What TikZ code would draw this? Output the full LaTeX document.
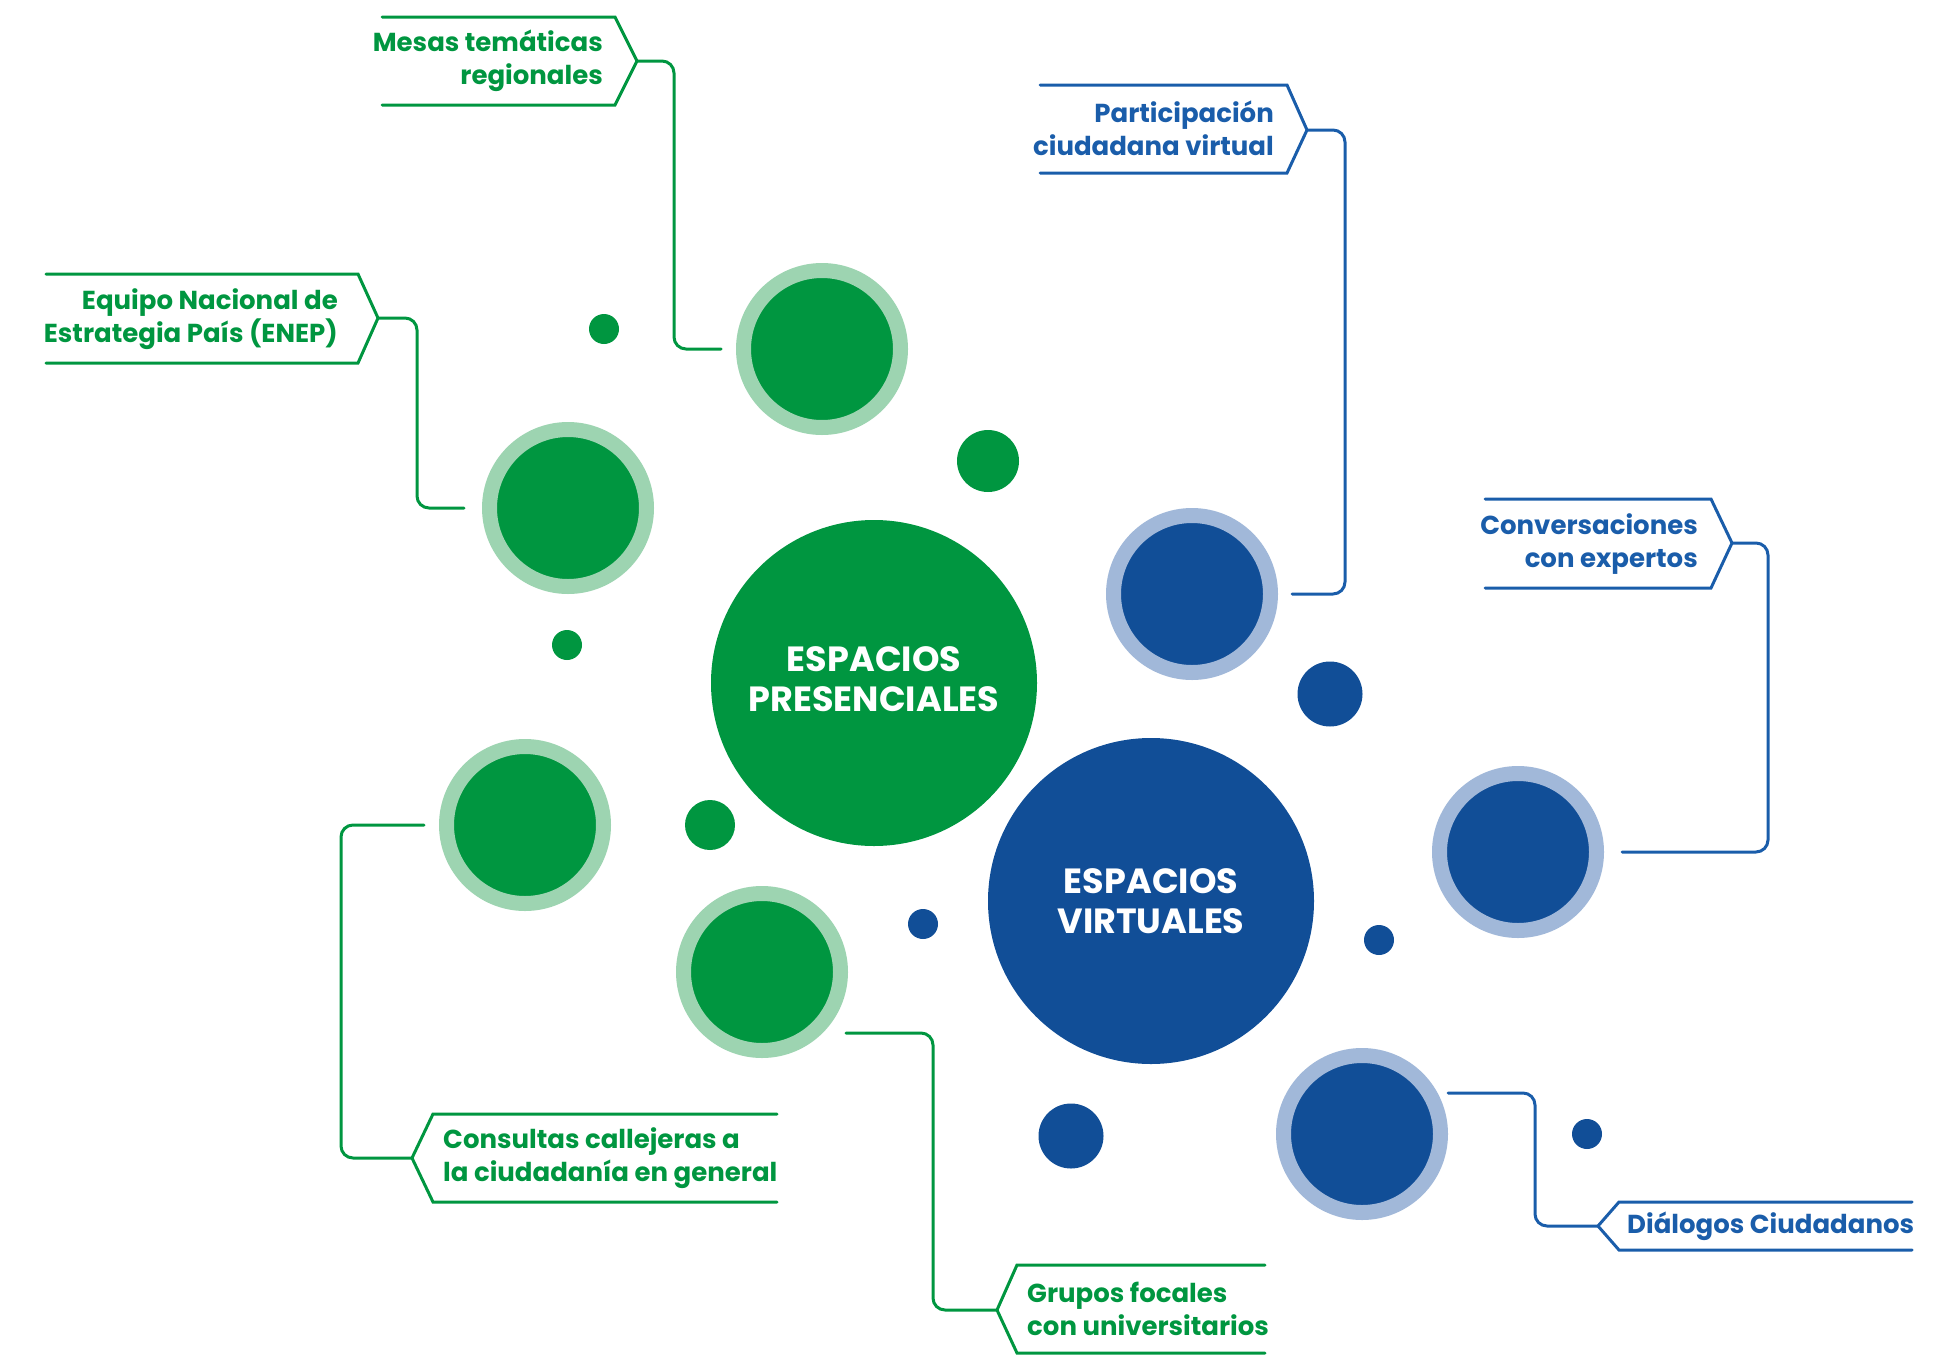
\documentclass[tikz,border=0pt]{standalone}
\usepackage{fontspec}
\setmainfont{Poppins}
\usetikzlibrary{calc}
\definecolor{verde}{HTML}{009640}
\definecolor{verdeclaro}{HTML}{9DD4B1}
\definecolor{azul}{HTML}{114E97}
\definecolor{azulclaro}{HTML}{A1B8D9}
\definecolor{azultexto}{HTML}{1A5DAA}

\begin{document}
\begin{tikzpicture}[x=1pt,y=-1pt,
    bigcircle/.style={circle,fill=#1,minimum size=326pt,inner sep=0pt,text=white,align=center,
      font=\fontsize{35}{40}\selectfont\bfseries},
    ring/.style 2 args={circle,fill=#1,draw=#2,line width=15pt,minimum size=157pt,inner sep=0pt},
    dot/.style={circle,fill=#1,inner sep=0pt},
    frame/.style={line width=3pt,line cap=round,line join=miter,#1},
    conn/.style={line width=3pt,line cap=round,rounded corners=12pt,#1},
    label/.style={inner sep=0pt,text=#1,font=\fontsize{26}{33}\selectfont\bfseries}]
    \useasboundingbox (0,0) rectangle (1957,1371);

    % big circles
    \node[bigcircle=verde] (pres) at (874,683) {};
    \node[text=white,align=center,font=\fontsize{35}{40}\selectfont\bfseries] (tPres) at (874,679) {ESPACIOS\\PRESENCIALES};
    \node[bigcircle=azul] (virt) at (1151,901) {ESPACIOS\\VIRTUALES};

    % ringed circles
    \node[ring={verde}{verdeclaro}] (mesas) at (822,349) {};
    \node[ring={verde}{verdeclaro}] (enep) at (568,508) {};
    \node[ring={verde}{verdeclaro}] (consultas) at (525,825) {};
    \node[ring={verde}{verdeclaro}] (grupos) at (762,972) {};
    \node[ring={azul}{azulclaro}] (partic) at (1192,594) {};
    \node[ring={azul}{azulclaro}] (conv) at (1518,852) {};
    \node[ring={azul}{azulclaro}] (dialogos) at (1362,1134) {};

    % small dots
    \node[dot=verde,minimum size=30pt] (d1) at (604,329) {};
    \node[dot=verde,minimum size=62pt] (d2) at (988,461) {};
    \node[dot=verde,minimum size=30pt] (d3) at (567,645) {};
    \node[dot=verde,minimum size=50pt] (d4) at (710,825) {};
    \node[dot=azul,minimum size=65pt] (d5) at (1330,694) {};
    \node[dot=azul,minimum size=30pt] (d6) at (923,924) {};
    \node[dot=azul,minimum size=30pt] (d7) at (1379,940) {};
    \node[dot=azul,minimum size=65pt] (d8) at (1071,1136) {};
    \node[dot=azul,minimum size=30pt] (d9) at (1587,1134) {};

    % tips of the labels and free ends of the connectors
    \coordinate (tipMesas) at (637,61);
    \coordinate (tipEnep) at (378,318);
    \coordinate (tipPartic) at (1307,130);
    \coordinate (tipConv) at (1732,543);
    \coordinate (tipConsultas) at (412,1158);
    \coordinate (tipGrupos) at (997,1310);
    \coordinate (tipDialogos) at (1598,1226);
    \coordinate (endGrupos) at (846,1033);
    \coordinate (endDialogos) at (1448,1093);

    % labels
    \draw[frame=verde] (382,17) -- (615,17) -- (tipMesas) -- (615,105) -- (382,105);
    \node[label=verde,anchor=east,align=right] (tMesas) at (603,61) {Mesas temáticas\\regionales};
    \draw[frame=verde] (46,274) -- (358,274) -- (tipEnep) -- (358,363) -- (46,363);
    \node[label=verde,anchor=east,align=right] (tEnep) at (338,319) {Equipo Nacional de\\Estrategia País (ENEP)};
    \draw[frame=azultexto] (1040,85) -- (1287,85) -- (tipPartic) -- (1287,173) -- (1040,173);
    \node[label=azultexto,anchor=east,align=right] (tPartic) at (1274,128) {Participación\\ciudadana virtual};
    \draw[frame=azultexto] (1485,499) -- (1711,499) -- (tipConv) -- (1711,588) -- (1485,588);
    \node[label=azultexto,anchor=east,align=right] (tConv) at (1698,544) {Conversaciones\\con expertos};
    \draw[frame=verde] (777,1114) -- (433,1114) -- (tipConsultas) -- (433,1202) -- (777,1202);
    \node[label=verde,anchor=west,align=left] (tConsultas) at (443,1158) {Consultas callejeras a\\la ciudadanía en general};
    \draw[frame=verde] (1265,1265) -- (1017,1265) -- (tipGrupos) -- (1017,1353) -- (1265,1353);
    \node[label=verde,anchor=west,align=left] (tGrupos) at (1027,1309) {Grupos focales\\con universitarios};
    \draw[frame=azultexto] (1912,1202) -- (1619,1202) -- (tipDialogos) -- (1619,1250) -- (1912,1250);
    \node[label=azultexto,anchor=west] (tDialogos) at (1627,1226) {Diálogos Ciudadanos};

    % connectors
    \draw[conn=verde] (tipMesas) -- ++(37,0) |- ([xshift=-15pt]mesas.west);
    \draw[conn=verde] (tipEnep) -- ++(39,0) |- ([xshift=-18pt]enep.west);
    \draw[conn=azultexto] (tipPartic) -- ++(38,0) |- ([xshift=14pt]partic.east);
    \draw[conn=azultexto] (tipConv) -- ++(36,0) |- ([xshift=18pt]conv.east);
    \draw[conn=verde] (tipConsultas) -- ++(-71,0) |- ([xshift=-15pt]consultas.west);
    \draw[conn=verde] (tipGrupos) -- ++(-64,0) |- (endGrupos);
    \draw[conn=azultexto] (tipDialogos) -- ++(-63,0) |- (endDialogos);
\end{tikzpicture}
\end{document}
